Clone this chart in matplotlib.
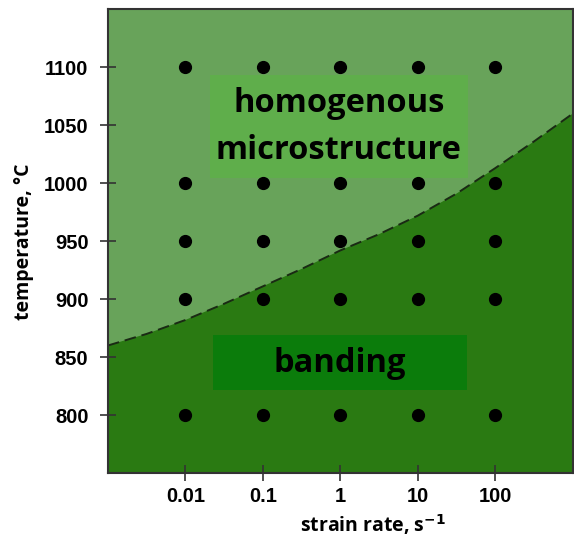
import matplotlib.pyplot as plt
from matplotlib.patches import Rectangle
import numpy as np

# test grid
strain_rates = [0.01, 0.1, 1, 10, 100]
temperatures = [800, 900, 950, 1000, 1100]

# boundary between the two regions
boundary_rate = [0.001, 0.00316, 0.01, 0.0316, 0.1, 0.316, 1, 3.16, 10, 31.6, 100, 316, 1000]
boundary_temp = [860, 870, 882, 896, 911, 926, 942, 956, 972, 991, 1013, 1036, 1060]

x_ticks = [0.01, 0.1, 1, 10, 100]
x_ticklabels = ['0.01', '0.1', '1', '10', '100']
y_ticks = [800, 850, 900, 950, 1000, 1050, 1100]

plt.rcParams['font.family'] = ['Liberation Sans', 'DejaVu Sans']
label_font = ['Open Sans', 'DejaVu Sans']

fig = plt.figure(figsize=(5.74, 5.37), dpi=100)
ax = fig.add_axes([0.188, 0.119, 0.810, 0.864])

xmin, xmax = 0.001, 1000
ymin, ymax = 750, 1150
ax.set_xscale('log')
ax.set_xlim(xmin, xmax)
ax.set_ylim(ymin, ymax)

ax.set_facecolor('#68a35a')
ax.fill_between(boundary_rate, ymin, boundary_temp, color='#2a7a12', zorder=1)
ax.plot(boundary_rate, boundary_temp, color='#1a2a14', lw=1.4,
        dashes=(6, 3), zorder=2)

# label boxes
ax.add_patch(Rectangle((0.219, 0.636), 0.555, 0.222, transform=ax.transAxes,
                       facecolor='#5fae4b', edgecolor='none', zorder=2))
ax.add_patch(Rectangle((0.226, 0.179), 0.546, 0.118, transform=ax.transAxes,
                       facecolor='#0b7c0b', edgecolor='none', zorder=2))
ax.text(0.4965, 0.797, 'homogenous', transform=ax.transAxes,
        ha='center', va='center', fontsize=23.5, fontweight='bold',
        family=label_font, zorder=3)
ax.text(0.4965, 0.696, 'microstructure', transform=ax.transAxes,
        ha='center', va='center', fontsize=23.5, fontweight='bold',
        family=label_font, zorder=3)
ax.text(0.499, 0.237, 'banding', transform=ax.transAxes,
        ha='center', va='center', fontsize=23.5, fontweight='bold',
        family=label_font, zorder=3)

xs, ys = np.meshgrid(strain_rates, temperatures)
ax.plot(xs.ravel(), ys.ravel(), 'o', color='black', ms=8.5, zorder=4)

ax.set_xticks(x_ticks)
ax.set_xticklabels(x_ticklabels)
ax.minorticks_off()
ax.set_yticks(y_ticks)
ax.tick_params(direction='inout', length=12, width=1.2, color='#333333',
               labelsize=14.5)
ax.tick_params(axis='x', pad=4)
ax.tick_params(axis='y', pad=8)
for lab in ax.get_xticklabels() + ax.get_yticklabels():
    lab.set_fontweight('bold')

for s in ax.spines.values():
    s.set_color('#333333')
    s.set_linewidth(1.5)

ax.set_xlabel('strain rate, s$^{\\mathbf{-1}}$', fontsize=14, fontweight='bold',
              family=label_font)
ax.set_ylabel('temperature, \u00b0C', fontsize=14, fontweight='bold',
              family=label_font)
ax.xaxis.set_label_coords(0.57, -0.11)
ax.xaxis.label.set_va('center')
ax.yaxis.set_label_coords(-0.181, 0.498)
ax.yaxis.label.set_va('center')

fig.savefig('out.png', dpi=100)
